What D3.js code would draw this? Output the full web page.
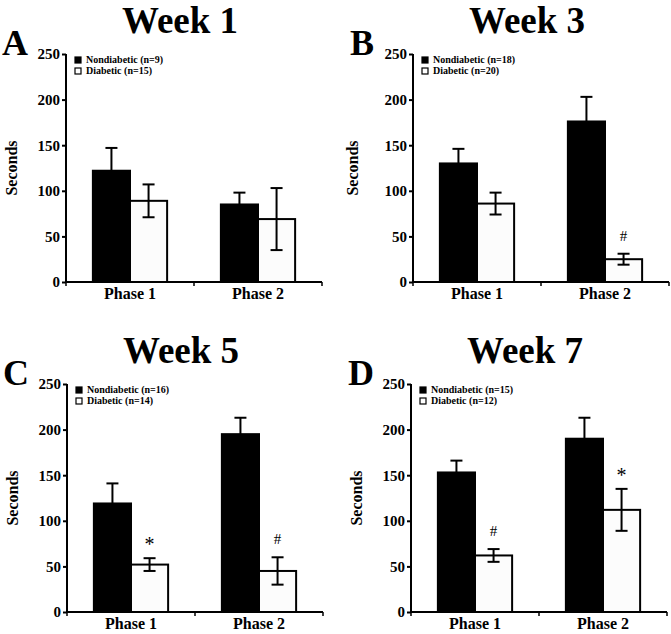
<!DOCTYPE html>
<html>
<head>
<meta charset="utf-8">
<script src="https://cdn.jsdelivr.net/npm/d3@7"></script>
<style>
  body { margin: 0; background: #fff; }
  svg text { font-family: "Liberation Serif", Tinos, "DejaVu Serif", "Times New Roman", Times, serif; font-weight: bold; }
</style>
</head>
<body>
<div id="chart"></div>
<script>
const weeks = ["Week 1", "Week 3", "Week 5", "Week 7"];
const panelLetters = ["A", "B", "C", "D"];
const phases = ["Phase 1", "Phase 2"];
const groups = ["Nondiabetic", "Diabetic"];
const yTicks = [0, 50, 100, 150, 200, 250];

// per week, per phase
const nondiabeticMean = [[122, 85], [130, 176], [119, 195], [153, 190]];
const nondiabeticErr = [[25, 13], [16, 27], [22, 18], [13, 23]];
const diabeticMean = [[89, 69], [86, 25], [52, 45], [62, 112]];
const diabeticErr = [[18, 34], [12, 6], [7, 15], [7, 23]];
const nondiabeticN = [9, 18, 16, 15];
const diabeticN = [15, 20, 14, 12];
const diabeticMarks = [["", ""], ["", "#"], ["*", "#"], ["#", "*"]];

const width = 671, height = 634;
const plotW = 256, plotH = 228;
// axis origin (left, top) of each panel
const panelPos = [[66, 54], [413, 54], [67, 384], [411, 384]];
const labelOffset = [49, 55, 49, 49];

const svg = d3.select("#chart").append("svg")
    .attr("width", width)
    .attr("height", height);

const y = d3.scaleLinear().domain([0, 250]).range([plotH, 0]);
const x0 = d3.scaleBand().domain(phases).range([0, plotW]).paddingInner(0.42).paddingOuter(0.21);
const x1 = d3.scaleBand().domain(groups).range([0, x0.bandwidth()]);

weeks.forEach((week, w) => {
    const [px, py] = panelPos[w];
    const g = svg.append("g").attr("transform", `translate(${px},${py})`);

    // title and panel letter
    g.append("text")
        .attr("x", 114).attr("y", -21)
        .attr("text-anchor", "middle")
        .attr("font-size", 37)
        .text(week);
    g.append("text")
        .attr("x", w % 2 === 0 ? -64 : -63).attr("y", 1)
        .attr("font-size", 36)
        .text(panelLetters[w]);

    const rows = phases.map((p, i) => [
        { phase: p, group: "Nondiabetic", mean: nondiabeticMean[w][i], err: nondiabeticErr[w][i], mark: "" },
        { phase: p, group: "Diabetic", mean: diabeticMean[w][i], err: diabeticErr[w][i], mark: diabeticMarks[w][i] }
    ]).flat();

    // bars
    g.selectAll("rect.bar").data(rows).enter().append("rect")
        .attr("class", "bar")
        .attr("x", d => x0(d.phase) + x1(d.group))
        .attr("y", d => y(d.mean))
        .attr("width", x1.bandwidth())
        .attr("height", d => y(0) - y(d.mean))
        .attr("fill", d => d.group === "Nondiabetic" ? "#000" : "#fcfcfc")
        .attr("stroke", "#000")
        .attr("stroke-width", 2);

    // error bars
    const eb = g.selectAll("g.err").data(rows).enter().append("g").attr("class", "err");
    const cx = d => x0(d.phase) + x1(d.group) + x1.bandwidth() / 2;
    eb.append("line")
        .attr("x1", cx).attr("x2", cx)
        .attr("y1", d => y(d.mean + d.err)).attr("y2", d => y(d.mean - d.err))
        .attr("stroke", "#000")
        .attr("stroke-width", 2);
    eb.append("line")
        .attr("x1", d => cx(d) - 6).attr("x2", d => cx(d) + 6)
        .attr("y1", d => y(d.mean + d.err)).attr("y2", d => y(d.mean + d.err))
        .attr("stroke", "#000").attr("stroke-width", 2);
    eb.filter(d => d.group === "Diabetic").append("line")
        .attr("x1", d => cx(d) - 6).attr("x2", d => cx(d) + 6)
        .attr("y1", d => y(d.mean - d.err)).attr("y2", d => y(d.mean - d.err))
        .attr("stroke", "#000").attr("stroke-width", 2);

    // significance marks
    g.selectAll("text.mark").data(rows.filter(d => d.mark)).enter().append("text")
        .attr("class", "mark")
        .attr("x", cx)
        .attr("y", d => y(d.mean + d.err) - (d.mark === "*" ? 7 : 13))
        .attr("text-anchor", "middle")
        .attr("font-size", d => d.mark === "*" ? 20 : 15)
        .style("font-weight", "normal")
        .text(d => d.mark);

    // y axis
    const yAxis = g.append("g")
        .call(d3.axisLeft(y).tickValues(yTicks).tickSize(4).tickPadding(2));
    yAxis.attr("font-family", null);
    yAxis.select(".domain").attr("stroke-width", 2).attr("d", `M0,0V${plotH}`);
    yAxis.selectAll(".tick line").attr("stroke-width", 2);
    yAxis.selectAll(".tick text")
        .attr("font-size", 15)
        .attr("fill", "#000");

    // x axis
    const xAxis = g.append("g").attr("transform", `translate(0,${plotH})`);
    xAxis.append("line")
        .attr("x1", -1).attr("x2", plotW)
        .attr("stroke", "#000").attr("stroke-width", 2);
    xAxis.selectAll("line.tick").data([0, x0.step(), plotW]).enter().append("line")
        .attr("class", "tick")
        .attr("x1", d => d).attr("x2", d => d)
        .attr("y1", 0).attr("y2", 4)
        .attr("stroke", "#000").attr("stroke-width", 1.5);
    xAxis.selectAll("text").data(phases).enter().append("text")
        .attr("x", d => x0(d) + x0.bandwidth() / 2)
        .attr("y", 17)
        .attr("text-anchor", "middle")
        .attr("font-size", 16)
        .text(d => d);

    // y label
    g.append("text")
        .attr("transform", `translate(${-labelOffset[w]},${plotH / 2}) rotate(-90)`)
        .attr("text-anchor", "middle")
        .attr("font-size", 16)
        .text("Seconds");

    // legend
    const legendLabels = [`Nondiabetic (n=${nondiabeticN[w]})`, `Diabetic (n=${diabeticN[w]})`];
    const lg = g.selectAll("g.legend").data(groups).enter().append("g")
        .attr("class", "legend")
        .attr("transform", (d, i) => `translate(9,${3 + i * 11})`);
    lg.append("rect")
        .attr("width", 6).attr("height", 6)
        .attr("fill", d => d === "Nondiabetic" ? "#000" : "#fff")
        .attr("stroke", "#000").attr("stroke-width", 1.2);
    lg.append("text")
        .attr("x", 11).attr("y", 6)
        .attr("font-size", 10)
        .text((d, i) => legendLabels[i]);
});
</script>
</body>
</html>
